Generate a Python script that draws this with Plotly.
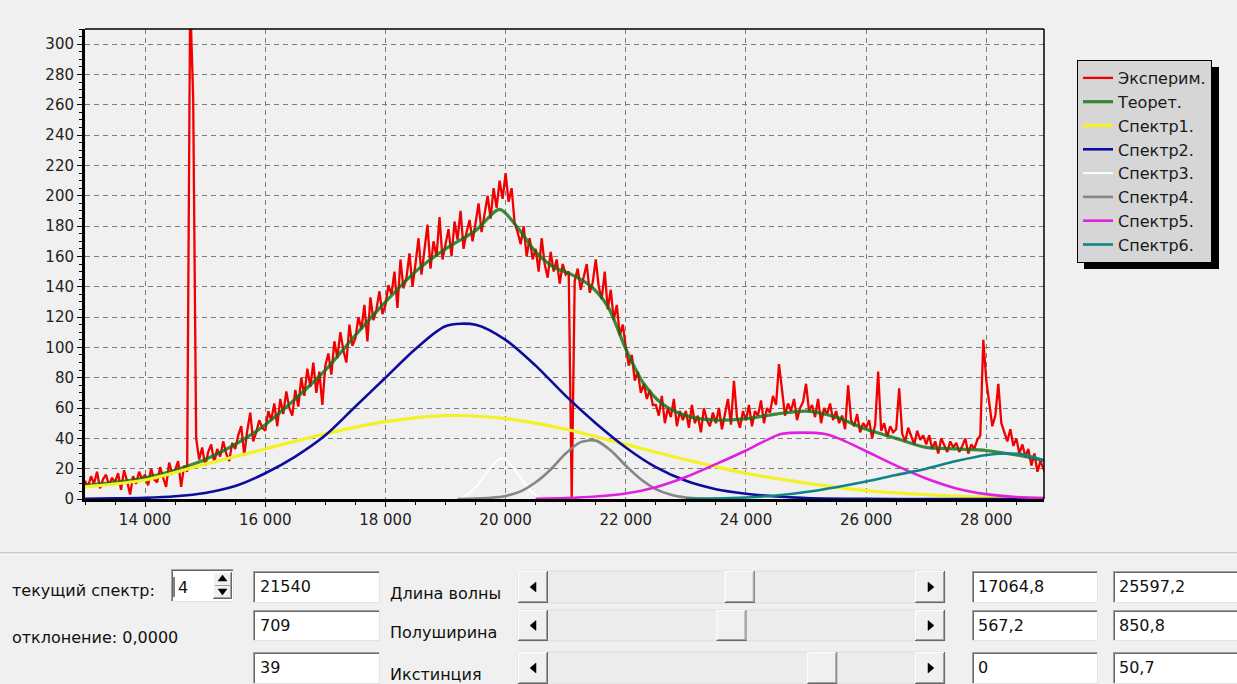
import plotly.graph_objects as go

# ------------------------------------------------------------------ data
# experimental spectrum, sampled every 50 cm-1 from 13000
EXP_START = 13000
EXP_STEP = 50
exp_y = [
    12, 8, 15, 10, 18, 7, 13, 16, 9, 14,
    11, 17, 6, 19, 12, 3, 15, 10, 18, 13,
    16, 9, 20, 13, 11, 21, 14, 8, 24, 17,
    19, 25, 8, 22, 18, 330, 265, 40, 26, 34,
    22, 31, 36, 24, 33, 28, 38, 30, 25, 37,
    33, 42, 48, 29, 45, 57, 38, 44, 52, 47,
    45, 58, 52, 63, 48, 66, 56, 71, 60, 55,
    72, 61, 80, 68, 86, 74, 90, 70, 84, 62,
    88, 96, 82, 104, 93, 110, 98, 90, 115, 101,
    106, 120, 112, 128, 104, 133, 118, 125, 137, 122,
    128, 141, 135, 150, 126, 158, 139, 146, 162, 140,
    155, 172, 148, 166, 181, 152, 170, 160, 186, 158,
    168, 178, 160, 183, 171, 190, 165, 176, 184, 170,
    182, 195, 176, 188, 200, 185, 205, 192, 210, 198,
    215, 196, 205, 182, 176, 168, 180, 160, 172, 158,
    165, 150, 172, 155, 146, 163, 150, 158, 142, 155,
    148, 150, 0, 144, 152, 138, 147, 155, 136, 143,
    158, 140, 132, 150, 125, 138, 118, 128, 108, 115,
    100, 88, 95, 78, 84, 70, 76, 66, 72, 62,
    62, 55, 68, 50, 60, 54, 66, 48, 58, 52,
    58, 47, 62, 50, 55, 44, 60, 52, 48, 57,
    50, 60, 46, 55, 66, 49, 78, 54, 47, 58,
    52, 62, 48, 58, 55, 65, 50, 60, 57, 68,
    62, 89, 70, 55, 63, 58, 66, 52, 60, 64,
    76, 58, 62, 54, 66, 50, 60, 56, 63, 52,
    58, 50, 55, 46, 75, 52, 48, 56, 44, 50,
    47, 52, 40, 49, 84, 45, 50, 41, 48, 44,
    46, 73, 43, 38, 47, 41, 36, 45, 39, 42,
    36, 42, 33, 38, 30, 40, 35, 31, 38, 34,
    37, 31, 35, 40, 30, 36, 33, 39, 42, 105,
    78, 62, 48, 55, 76, 50, 44, 38, 46, 35,
    40, 30, 36, 28, 33, 22, 30, 18, 25, 20,
    15,
]
exp_x = [EXP_START + EXP_STEP * i for i in range(len(exp_y))]

theor_x = [13000, 13500, 14000, 14500, 15000, 15500, 16000, 16500, 17000, 17500,
           18000, 18500, 19000, 19500, 19900, 20200, 20500, 20800, 21100, 21400,
           21700, 22000, 22300, 22600, 23000, 23500, 24000, 24500, 25000, 25500,
           26000, 26500, 27000, 27500, 28000, 28500, 29000]
theor_y = [9, 11, 14, 19, 26, 36, 49, 66, 85, 108,
           130, 150, 165, 177, 191, 179, 163, 153, 148, 141,
           127, 99, 76, 63, 55, 52, 53, 56, 58, 54,
           46, 40, 34, 33, 32, 29, 25]

s1_x = [13000, 14000, 15000, 16000, 17000, 18000, 19000, 20000, 21000, 22000,
        23000, 24000, 25000, 26000, 27000, 28000, 29000]
s1_y = [8, 12.5, 23, 33, 43, 51, 55, 53, 46, 36,
        26, 17, 10.5, 5.5, 2.8, 1.2, 0.5]

s2_x = [13000, 13500, 14000, 14500, 15000, 15500, 16000, 16500, 17000, 17500,
        18000, 18500, 19000, 19500, 20000, 20500, 21000, 21500, 22000,
        22500, 23000, 23500, 24000, 24500, 25000, 26000, 27000, 28000, 29000]
s2_y = [0.2, 0.4, 0.8, 1.8, 4, 8.5, 17, 28, 42, 61,
        80, 99, 114, 115, 105, 88, 68, 50, 34,
        21, 12, 6.5, 3.5, 1.6, 0.7, 0.1, 0, 0, 0]

s3_x = [19250, 19400, 19550, 19700, 19850, 19950, 20100, 20250, 20400, 20550]
s3_y = [0, 4, 10, 18, 25, 27, 22, 14, 6, 1]

s4_x = [19200, 19500, 19750, 20000, 20250, 20500, 20750, 21000, 21250, 21500,
        21750, 22000, 22250, 22500, 22750, 23000, 23250, 23600]
s4_y = [0, 0.3, 0.8, 2, 5, 11, 19.5, 30, 37.5, 38.5,
        32, 22, 13, 6.5, 2.8, 1, 0.3, 0]

s5_x = [20500, 21000, 21500, 22000, 22500, 23000, 23500, 24000, 24300, 24600,
        25300, 25600, 26000, 26500, 27000, 27500, 28000, 28500, 29000]
s5_y = [0.2, 0.6, 1.6, 3.6, 7.8, 14.5, 23, 32, 38, 43,
        43, 39, 31.5, 22, 13.5, 7, 3.2, 1.3, 0.5]

s6_x = [23000, 23500, 24000, 24500, 25000, 25500, 26000, 26500, 27000, 27500,
        28000, 28300, 28600, 29000]
s6_y = [0, 0.3, 1, 2.3, 4.6, 7.8, 11.5, 15.8, 20, 25,
        29, 30, 29.5, 25]

series_names = ["Эксперим.", "Теорет.", "Спектр1.", "Спектр2.", "Спектр3.",
                "Спектр4.", "Спектр5.", "Спектр6."]

# form values
current_spectrum = "4"
deviation_text = "отклонение: 0,0000"
current_label = "текущий спектр:"
param_labels = ["Длина волны", "Полуширина", "Икстинция"]
param_values = ["21540", "709", "39"]
param_min = ["17064,8", "567,2", "0"]
param_max = ["25597,2", "850,8", "50,7"]

# ------------------------------------------------------------------ geometry helpers
FIG_W, FIG_H = 1237, 684
PL, PR, PT, PB = 85, 1044, 29, 499
FONT = "DejaVu Sans"


def X(px):
    return (px - PL) / (PR - PL)


def Y(py):
    return (PB - py) / (PB - PT)


fig = go.Figure()

styles = [
    ("#f00000", 2.3, "linear"),
    ("rgba(20,112,20,0.82)", 3.2, "spline"),
    ("#f2f226", 3.2, "spline"),
    ("#0c0c9c", 2.6, "spline"),
    ("#ffffff", 2, "spline"),
    ("#858585", 2.6, "spline"),
    ("#e020e0", 2.6, "spline"),
    ("#108484", 2.6, "spline"),
]
series = [(exp_x, exp_y), (theor_x, theor_y), (s1_x, s1_y), (s2_x, s2_y),
          (s3_x, s3_y), (s4_x, s4_y), (s5_x, s5_y), (s6_x, s6_y)]

for name, (xs, ys), (col, lw, shape) in zip(series_names, series, styles):
    fig.add_trace(go.Scatter(
        x=xs, y=ys, name=name, mode="lines",
        line=dict(color=col, width=lw, shape=shape, smoothing=0.8 if shape == "spline" else None),
        hoverinfo="skip",
    ))

shapes = []
annotations = []


def rect(x0, y0, x1, y1, fill, line=None, lw=1):
    shapes.append(dict(type="rect", xref="paper", yref="paper",
                       x0=X(x0), x1=X(x1), y0=Y(y1), y1=Y(y0),
                       fillcolor=fill, line=dict(color=line if line else fill, width=lw if line else 0),
                       layer="above"))


def line(x0, y0, x1, y1, color, lw=1):
    shapes.append(dict(type="line", xref="paper", yref="paper",
                       x0=X(x0), x1=X(x1), y0=Y(y0), y1=Y(y1),
                       line=dict(color=color, width=lw), layer="above"))


def tri(pts, color="#000000"):
    p = "M " + " L ".join(f"{X(a)},{Y(b)}" for a, b in pts) + " Z"
    shapes.append(dict(type="path", xref="paper", yref="paper", path=p,
                       fillcolor=color, line=dict(color=color, width=0.5), layer="above"))


def text(x, y, s, size=16, anchor="left", color="#111111"):
    annotations.append(dict(xref="paper", yref="paper", x=X(x), y=Y(y), text=s,
                            showarrow=False, xanchor=anchor, yanchor="middle",
                            font=dict(family=FONT, size=size, color=color)))


def sunken(x0, y0, x1, y1):
    rect(x0, y0, x1, y1, "#ffffff")
    line(x0, y0 + 0.5, x1, y0 + 0.5, "#a0a0a0", 1)
    line(x0 + 0.5, y0, x0 + 0.5, y1, "#a0a0a0", 1)
    line(x0 + 1, y0 + 1.5, x1 - 1, y0 + 1.5, "#696969", 1)
    line(x0 + 1.5, y0 + 1, x0 + 1.5, y1 - 1, "#696969", 1)
    line(x0, y1 - 0.5, x1, y1 - 0.5, "#e3e3e3", 1)
    line(x1 - 0.5, y0, x1 - 0.5, y1, "#e3e3e3", 1)


def raised(x0, y0, x1, y1):
    rect(x0, y0, x1, y1, "#f0f0f0")
    line(x0, y0 + 0.5, x1, y0 + 0.5, "#ffffff", 1)
    line(x0 + 0.5, y0, x0 + 0.5, y1, "#ffffff", 1)
    line(x0, y1 - 0.5, x1, y1 - 0.5, "#696969", 1)
    line(x1 - 0.5, y0, x1 - 0.5, y1, "#696969", 1)
    line(x0 + 1, y1 - 1.5, x1 - 1, y1 - 1.5, "#a0a0a0", 1)
    line(x1 - 1.5, y0 + 1, x1 - 1.5, y1 - 1, "#a0a0a0", 1)


# frame (top / right thin lines)
line(PL, PT, PR, PT, "#000000", 1.5)
line(PR, PT, PR, PB, "#000000", 1.5)

# legend shadow
rect(1084, 67, 1219, 269, "#000000")

# separator of the bottom panel
line(0, 553, FIG_W, 553, "#a0a0a0", 1)
line(0, 554, FIG_W, 554, "#ffffff", 1)

# left labels
text(10, 590, current_label)
text(10, 637, deviation_text)

# spin edit
sunken(171, 569, 234, 602)
line(174, 577, 174, 597, "#000000", 1)
text(176, 587, current_spectrum)
raised(213, 572, 232, 599)
line(215, 585.5, 230, 585.5, "#a0a0a0", 1)
tri([(222.5, 575), (218, 581), (227, 581)])
tri([(218, 589), (227, 589), (222.5, 595)])

rows = [(571, 603), (610, 641), (652, 684)]
for i, (y0, y1) in enumerate(rows):
    yc = (y0 + y1) / 2
    # parameter value box
    sunken(253, y0, 380, y1)
    text(258, y0 + 15, param_values[i])
    # label
    text(388, y0 + 22, param_labels[i])
    # scrollbar
    rect(518, y0, 945, y1, "#ececec", "#dcdcdc", 1)
    raised(518, y0, 548, y1)
    raised(915, y0, 945, y1)
    tri([(536, yc - 5), (530, yc), (536, yc + 5)])
    tri([(928, yc - 5), (934, yc), (928, yc + 5)])
    vmin = float(param_min[i].replace(",", "."))
    vmax = float(param_max[i].replace(",", "."))
    val = float(param_values[i])
    frac = (val - vmin) / (vmax - vmin)
    tx = 548 + frac * (915 - 548 - 30)
    raised(tx, y0, tx + 30, y1)
    # range boxes
    sunken(972, y0, 1098, y1)
    text(976, y0 + 15, param_min[i])
    sunken(1113, y0, 1250, y1)
    text(1117, y0 + 15, param_max[i])

tick_font = dict(family=FONT, size=15, color="#222222")
grid_common = dict(showgrid=True, gridcolor="#7c7c7c", griddash="5px,4px", gridwidth=1,
                   zeroline=False, showline=True, linecolor="#000000", linewidth=3,
                   ticks="outside", ticklen=5, tickwidth=1, tickcolor="#000000",
                   tickfont=tick_font, fixedrange=True)

fig.update_layout(
    width=FIG_W, height=FIG_H,
    margin=dict(l=PL, r=FIG_W - PR, t=PT, b=FIG_H - PB, pad=0, autoexpand=False),
    paper_bgcolor="#f0f0f0", plot_bgcolor="#f0f0f0",
    separators=", ",
    xaxis=dict(range=[13000, 28960], tick0=0, dtick=2000, tickformat=",d",
               minor=dict(dtick=500, ticks="outside", ticklen=3, tickcolor="#000000", showgrid=False),
               **grid_common),
    yaxis=dict(range=[0, 310], tick0=0, dtick=20,
               minor=dict(dtick=5, ticks="outside", ticklen=3, tickcolor="#000000", showgrid=False),
               **grid_common),
    legend=dict(x=X(1077), y=Y(60), xanchor="left", yanchor="top",
                bgcolor="#d6d6d6", bordercolor="#000000", borderwidth=1,
                font=dict(family=FONT, size=16, color="#1a1a1a"),
                itemwidth=30, tracegroupgap=0),
    showlegend=True,
    shapes=shapes,
    annotations=annotations,
)

fig.write_html("out.html", config={"displayModeBar": False})
